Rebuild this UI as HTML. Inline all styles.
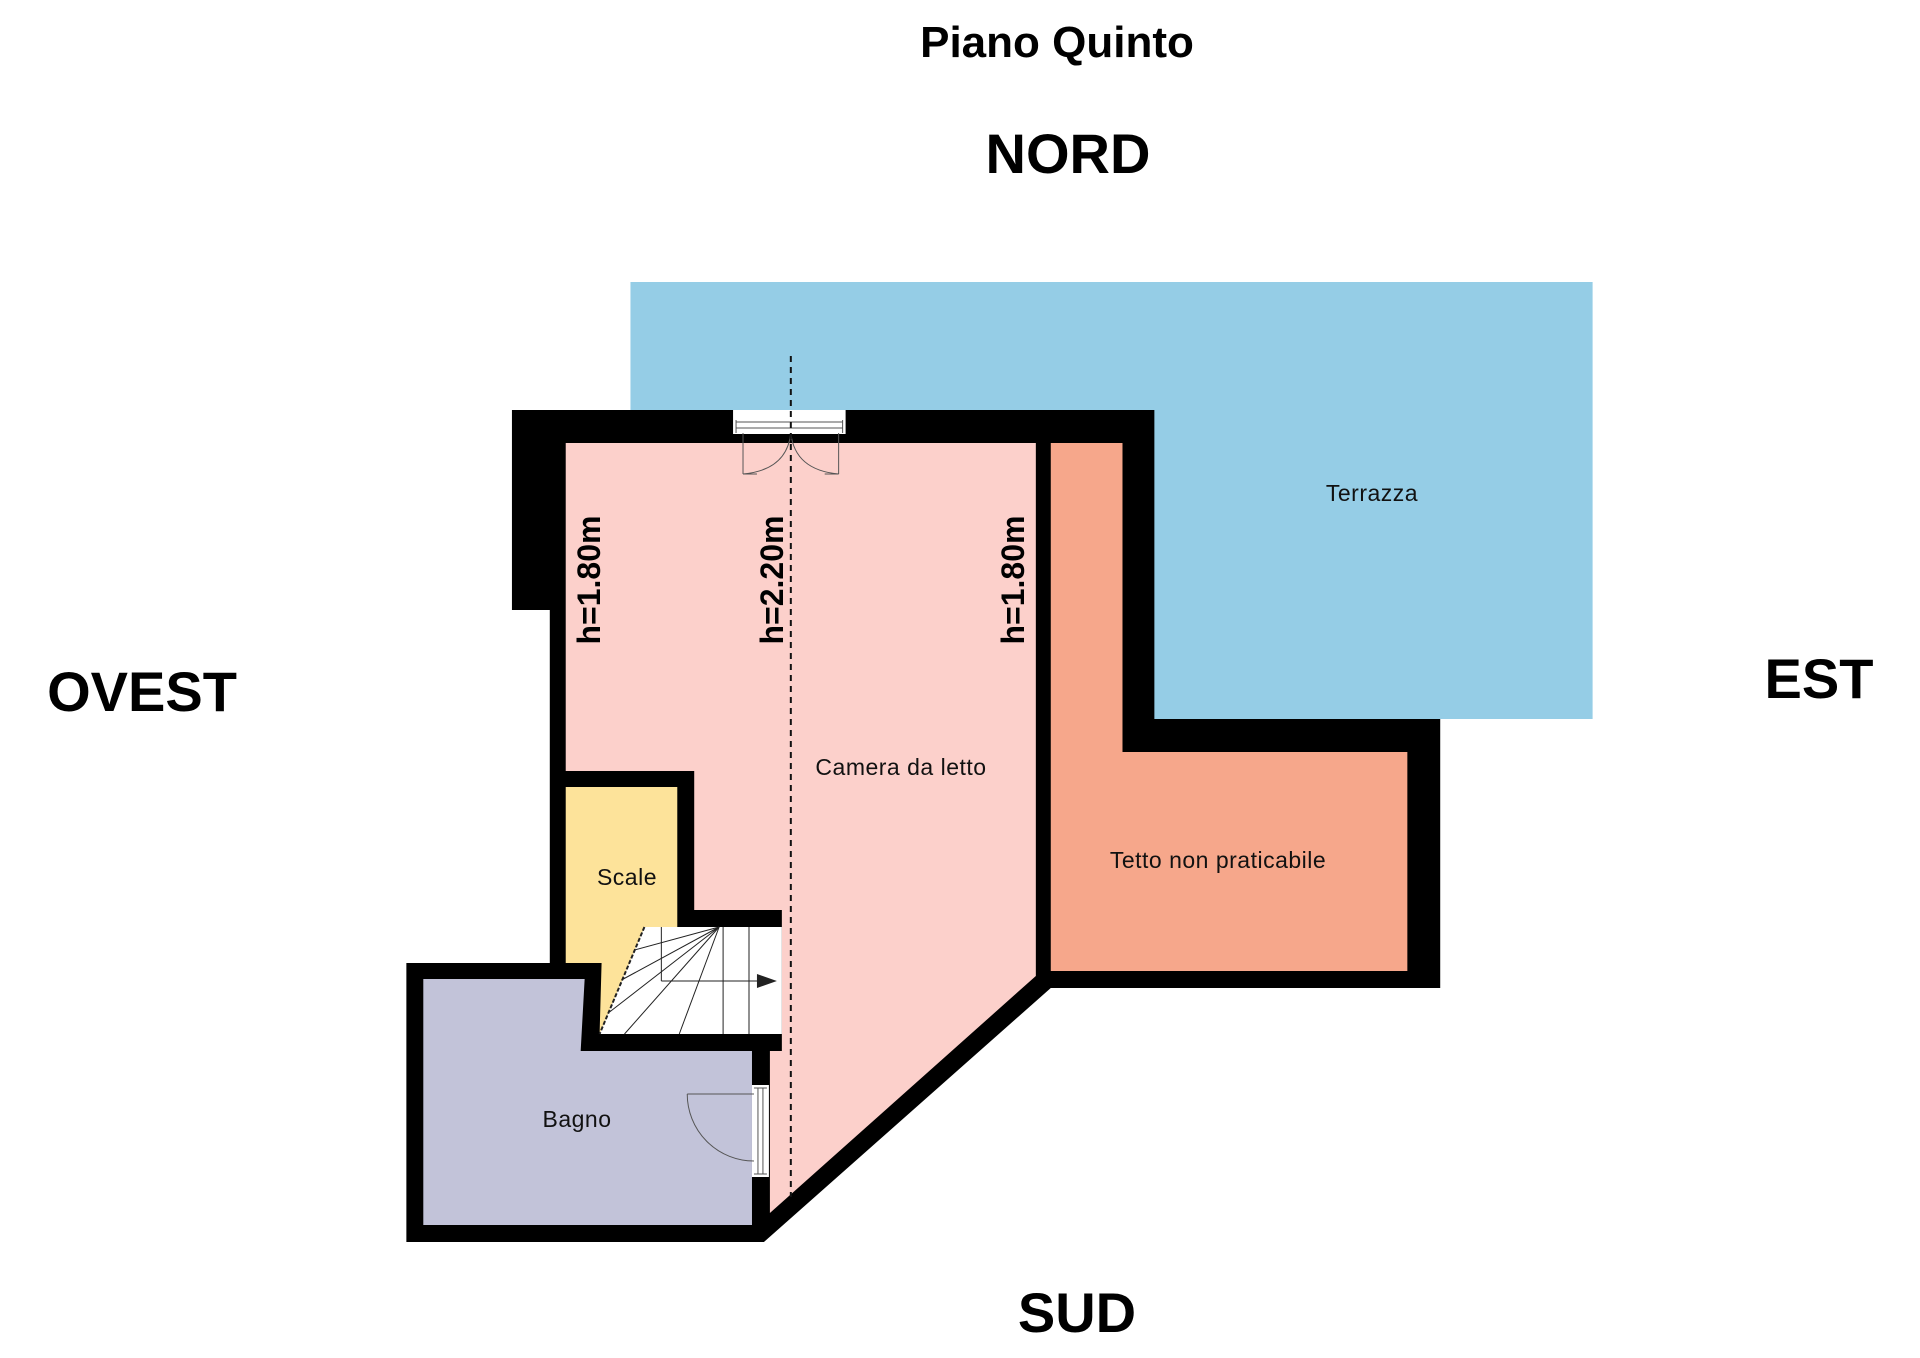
<!DOCTYPE html>
<html><head><meta charset="utf-8"><style>
html,body{margin:0;padding:0;background:#fff;}
svg{display:block;}
text{font-family:"Liberation Sans",Arial,sans-serif;}
</style></head><body>
<svg width="1920" height="1358" viewBox="0 0 1920 1358" xmlns="http://www.w3.org/2000/svg">
<rect width="1920" height="1358" fill="#fff"/>
<text x="1057" y="57" font-size="44" font-weight="bold" text-anchor="middle">Piano Quinto</text>
<text x="1068" y="173" font-size="56" font-weight="bold" text-anchor="middle">NORD</text>
<text x="142" y="711" font-size="56" font-weight="bold" text-anchor="middle">OVEST</text>
<text x="1819" y="698" font-size="56" font-weight="bold" text-anchor="middle">EST</text>
<text x="1077" y="1332" font-size="56" font-weight="bold" text-anchor="middle">SUD</text>

<g transform="scale(0.996 1)">
<rect x="633" y="282" width="966" height="437" fill="#95cde6"/>
<polygon fill="#000" points="514,410 1159,410 1159,719 1446,719 1446,988 1055,988 767,1242 408,1242 408,963 552,963 552,610 514,610"/>
<polygon fill="#fcd0cb" points="568,443 1040,443 1040,976 773,1213 773,1051 785,1051 785,910 697,910 697,771 568,771"/>
<polygon fill="#f6a78b" points="1055,443 1127,443 1127,752 1413,752 1413,971 1055,971"/>
<polygon fill="#fde39a" points="568,787 680,787 680,927 647,927 602,1034 604,963 568,963"/>
<polygon fill="#c2c3d9" points="425,979 587,979 583,1051 755,1051 755,1225 425,1225"/>
<polygon fill="#fff" points="647,927 785,927 785,1034 602,1034"/>
<g stroke="#222" stroke-width="1" fill="none">
<line x1="647" y1="927" x2="602" y2="1034" stroke-width="2" stroke-dasharray="4,2"/>
<line x1="726" y1="927" x2="726" y2="1034"/>
<line x1="752" y1="927" x2="752" y2="1034"/>
<line x1="722" y1="927" x2="637" y2="950"/>
<line x1="722" y1="927" x2="624" y2="980"/>
<line x1="722" y1="927" x2="612" y2="1012"/>
<line x1="722" y1="927" x2="627" y2="1034"/>
<line x1="722" y1="927" x2="682" y2="1034"/>
<line x1="664" y1="927" x2="664" y2="981"/>
<line x1="664" y1="981" x2="770" y2="981"/>
</g>
<polygon points="760,974 780,981 760,988" fill="#222"/>
<rect x="736" y="410" width="113" height="24" fill="#fff"/>
<g stroke="#555" stroke-width="1" fill="none">
<line x1="739" y1="422" x2="846" y2="422"/><line x1="739" y1="428" x2="846" y2="428"/>
<line x1="739" y1="420" x2="739" y2="433"/><line x1="846" y1="420" x2="846" y2="433"/>
<line x1="746" y1="433" x2="746" y2="474"/><line x1="746" y1="474" x2="760" y2="474"/>
<path d="M746,474 Q790,470 794,433"/>
<line x1="842" y1="433" x2="842" y2="474"/><line x1="842" y1="474" x2="828" y2="474"/>
<path d="M842,474 Q798,470 794,433"/>
</g>
<rect x="755" y="1085" width="17" height="92" fill="#fff"/>
<g stroke="#555" stroke-width="1" fill="none">
<line x1="761" y1="1088" x2="761" y2="1174"/><line x1="766" y1="1088" x2="766" y2="1174"/>
<line x1="757" y1="1088" x2="770" y2="1088"/><line x1="757" y1="1174" x2="770" y2="1174"/>
<line x1="690" y1="1094" x2="757" y2="1094"/>
<path d="M690,1094 A67,67 0 0 0 757,1161"/>
</g>
<line x1="794" y1="356" x2="794" y2="1197" stroke="#111" stroke-width="2" stroke-dasharray="6,5"/>
</g>
<g font-size="32" font-weight="bold" fill="#000" text-anchor="middle">
<text transform="translate(600,580) rotate(-90)">h=1.80m</text>
<text transform="translate(783,580) rotate(-90)">h=2.20m</text>
<text transform="translate(1024,580) rotate(-90)">h=1.80m</text>
</g>
<g font-size="23" fill="#111" text-anchor="middle" letter-spacing="0.5">
<text x="1372" y="501">Terrazza</text>
<text x="901" y="775">Camera da letto</text>
<text x="1218" y="868">Tetto non praticabile</text>
<text x="627" y="885">Scale</text>
<text x="577" y="1127">Bagno</text>
</g>
</svg>
</body></html>
